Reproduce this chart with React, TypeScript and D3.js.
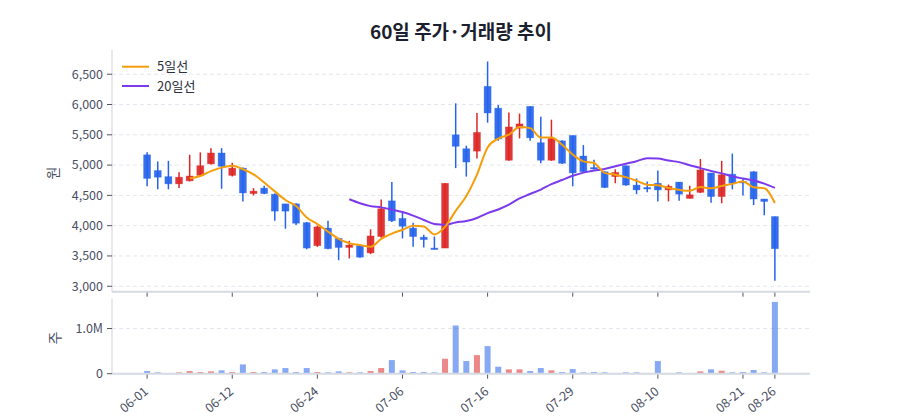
import * as d3 from "d3";

// 60 trading days
const dates = [
  "06-01", "06-03", "06-04", "06-05", "06-07", "06-08", "06-10", "06-11", "06-12", "06-13",
  "06-14", "06-17", "06-18", "06-19", "06-20", "06-21", "06-24", "06-25", "06-26", "06-27",
  "06-28", "07-01", "07-02", "07-04", "07-06", "07-08", "07-09", "07-10", "07-11", "07-12",
  "07-13", "07-15", "07-16", "07-17", "07-18", "07-19", "07-22", "07-23", "07-24", "07-26",
  "07-29", "07-30", "07-31", "08-01", "08-02", "08-05", "08-06", "08-07", "08-10", "08-11",
  "08-12", "08-13", "08-14", "08-16", "08-19", "08-20", "08-21", "08-22", "08-23", "08-26",
];

const opens = [
  5170, 4910, 4810, 4690, 4740, 4830, 5020, 5200, 4830, 4950,
  4530, 4620, 4520, 4360, 4360, 4050, 3670, 3960, 3790, 3640,
  3670, 3550, 3820, 4410, 4120, 3960, 3810, 3630, 3630, 5500,
  5270, 5230, 6300, 5940, 5080, 5610, 5970, 5370, 5080, 5400,
  5490, 5150, 4960, 4890, 4810, 4990, 4670, 4630, 4700, 4590,
  4720, 4450, 4550, 4870, 4480, 4850, 4730, 4890, 4440, 4150,
];

const highs = [
  5210, 5060, 5070, 4880, 5170, 5210, 5280, 5280, 5040, 4960,
  4620, 4660, 4530, 4360, 4370, 4060, 4000, 4080, 3800, 3750,
  3680, 3940, 4430, 4720, 4230, 4050, 3850, 3820, 4700, 6020,
  5320, 5860, 6710, 5990, 5870, 5850, 5970, 5800, 5750, 5410,
  5490, 5330, 5090, 4900, 4930, 4990, 4780, 4730, 4910, 4680,
  4720, 4660, 5100, 4870, 5070, 5190, 4780, 4900, 4440, 4150,
];

const lows = [
  4650, 4600, 4600, 4620, 4730, 4820, 5010, 4610, 4810, 4400,
  4500, 4520, 4080, 3950, 4010, 3610, 3650, 3610, 3430, 3460,
  3470, 3530, 3800, 4060, 3790, 3650, 3640, 3610, 3630, 4950,
  4810, 5110, 5700, 5400, 5070, 5440, 5400, 5030, 5070, 5020,
  4650, 4890, 4930, 4620, 4700, 4660, 4520, 4550, 4400, 4400,
  4410, 4450, 4540, 4380, 4370, 4600, 4500, 4340, 4170, 3090,
];

const closes = [
  4780, 4800, 4690, 4800, 4820, 4990, 5200, 4980, 4950, 4540,
  4570, 4530, 4240, 4240, 4040, 3630, 3980, 3620, 3640, 3680,
  3480, 3830, 4280, 4080, 3990, 3820, 3770, 3620, 4700, 5310,
  5050, 5540, 5860, 5430, 5630, 5680, 5450, 5080, 5440, 5030,
  4870, 4890, 4940, 4630, 4880, 4670, 4590, 4610, 4590, 4650,
  4520, 4510, 4920, 4480, 4840, 4700, 4710, 4440, 4400, 3620,
];

const volumes = [
  59000, 30000, 15000, 30000, 59000, 37000, 52000, 74000, 37000, 206000,
  37000, 37000, 96000, 125000, 37000, 125000, 37000, 30000, 52000, 30000,
  30000, 59000, 125000, 302000, 74000, 37000, 37000, 30000, 331000, 1067000,
  280000, 412000, 611000, 155000, 96000, 96000, 59000, 125000, 74000, 37000,
  103000, 30000, 37000, 30000, 15000, 30000, 30000, 5000, 280000, 8000,
  30000, 8000, 52000, 96000, 66000, 30000, 37000, 81000, 30000, 1590000,
];

const tickDates = ["06-01", "06-12", "06-24", "07-06", "07-16", "07-29", "08-10", "08-21", "08-26"];
const priceTicks = [3000, 3500, 4000, 4500, 5000, 5500, 6000, 6500];
const volumeTicks = [0, 1000000];

const UP = "#dc2626";
const DOWN = "#2563eb";
const MA5 = "#f59e0b";
const MA20 = "#7c3aed";
const FONT = "'Noto Sans CJK KR', 'Noto Sans', sans-serif";
const TEXT = "#4a4f63";

const left = 112;
const right = 810;
const priceTop = 50;
const priceBottom = 291.7;
const volTop = 298.3;
const volBottom = 373.7;

function movingAverage(values: number[], n: number) {
  return values.map((_, i) => (i < n - 1 ? null : d3.mean(values.slice(i - n + 1, i + 1)) as number));
}

export default function App() {
  const x = d3.scalePoint<string>().domain(dates).range([left, right]).padding(3.3);
  const y = d3.scaleLinear().domain([2910, 6900]).range([priceBottom, priceTop]);
  const vy = d3.scaleLinear().domain([0, d3.max(volumes)! * 1.05]).range([volBottom, volTop]);

  const ma5 = movingAverage(closes, 5);
  const ma20 = movingAverage(closes, 20);

  const line = d3
    .line<number | null>()
    .defined((d) => d != null)
    .x((_, i) => x(dates[i])!)
    .y((d) => y(d as number))
    .curve(d3.curveMonotoneX);

  const fmt = d3.format(",");
  const fmtVol = (v: number) => (v === 0 ? "0" : d3.format(".1f")(v / 1e6) + "M");

  return (
    <svg
      width={900}
      height={420}
      style={{ position: "absolute", left: 0, top: 0, background: "#fff" }}
      fontFamily={FONT}
    >
      <text x={461} y={39} textAnchor="middle" fontSize={19} fontWeight={700} fill="#1c1f2e">
        60일 주가·거래량 추이
      </text>

      {/* gridlines */}
      {priceTicks.map((t) => (
        <line key={"g" + t} x1={left} x2={right} y1={y(t)} y2={y(t)} stroke="#e3e6ec" strokeDasharray="4,3" />
      ))}
      {volumeTicks.slice(1).map((t) => (
        <line key={"vg" + t} x1={left} x2={right} y1={vy(t)} y2={vy(t)} stroke="#e3e6ec" strokeDasharray="4,3" />
      ))}

      {/* price y axis */}
      <line x1={left} x2={left} y1={priceTop} y2={priceBottom} stroke="#cfd3dc" />
      {priceTicks.map((t) => (
        <g key={"yt" + t} transform={`translate(0,${y(t)})`}>
          <line x1={left - 5} x2={left} stroke="#555" />
          <text x={left - 9} dy="0.35em" textAnchor="end" fontSize={12.5} fill={TEXT}>
            {fmt(t)}
          </text>
        </g>
      ))}
      <text transform={`translate(58,173) rotate(-90)`} textAnchor="middle" fontSize={14} fill={TEXT}>
        원
      </text>

      {/* price x axis */}
      <line x1={left} x2={right} y1={priceBottom} y2={priceBottom} stroke="#d5d9e2" strokeWidth={2} />
      {tickDates.map((d) => (
        <line key={"pt" + d} x1={x(d)} x2={x(d)} y1={priceBottom + 1} y2={priceBottom + 5} stroke="#555" />
      ))}

      {/* candles */}
      {dates.map((d, i) => {
        const c = closes[i] >= opens[i] ? UP : DOWN;
        const cx = x(d)!;
        const top = y(Math.max(opens[i], closes[i]));
        const bot = y(Math.min(opens[i], closes[i]));
        return (
          <g key={"c" + d}>
            <line x1={cx} x2={cx} y1={y(highs[i])} y2={y(lows[i])} stroke={c} strokeWidth={1.5} />
            <rect
              x={cx - 3.5}
              y={top}
              width={7}
              height={Math.max(bot - top, 1.5)}
              fill={c}
              fillOpacity={0.92}
              stroke={c}
              strokeOpacity={0.4}
              strokeWidth={0.8}
            />
          </g>
        );
      })}

      {/* moving averages */}
      <path d={line(ma20)!} fill="none" stroke={MA20} strokeWidth={2} />
      <path d={line(ma5)!} fill="none" stroke={MA5} strokeWidth={2} />

      {/* legend */}
      <line x1={122} x2={149} y1={66.7} y2={66.7} stroke={MA5} strokeWidth={2} />
      <text x={157} y={66.7} dy="0.35em" fontSize={13} fill="#2b2f3e">
        5일선
      </text>
      <line x1={122} x2={149} y1={86} y2={86} stroke={MA20} strokeWidth={2} />
      <text x={157} y={86} dy="0.35em" fontSize={13} fill="#2b2f3e">
        20일선
      </text>

      {/* volume y axis */}
      <line x1={left} x2={left} y1={volTop} y2={volBottom} stroke="#cfd3dc" />
      {volumeTicks.map((t) => (
        <g key={"vt" + t} transform={`translate(0,${vy(t)})`}>
          <line x1={left - 5} x2={left} stroke="#555" />
          <text x={left - 9} dy="0.35em" textAnchor="end" fontSize={12.5} fill={TEXT}>
            {fmtVol(t)}
          </text>
        </g>
      ))}
      <text transform={`translate(60,338) rotate(-90)`} textAnchor="middle" fontSize={14} fill={TEXT}>
        주
      </text>

      {/* volume bars */}
      {dates.map((d, i) => (
        <rect
          key={"v" + d}
          x={x(d)! - 3}
          y={vy(volumes[i])}
          width={6}
          height={volBottom - vy(volumes[i])}
          fill={closes[i] >= opens[i] ? UP : DOWN}
          fillOpacity={0.55}
        />
      ))}

      {/* volume x axis */}
      <line x1={left} x2={right} y1={volBottom} y2={volBottom} stroke="#d5d9e2" strokeWidth={2} />
      {tickDates.map((d) => (
        <g key={"vx" + d} transform={`translate(${x(d)},${volBottom})`}>
          <line y1={1} y2={5} stroke="#555" />
          <text transform="translate(2,19) rotate(-40)" textAnchor="end" fontSize={12.5} fill={TEXT}>
            {d}
          </text>
        </g>
      ))}
    </svg>
  );
}
